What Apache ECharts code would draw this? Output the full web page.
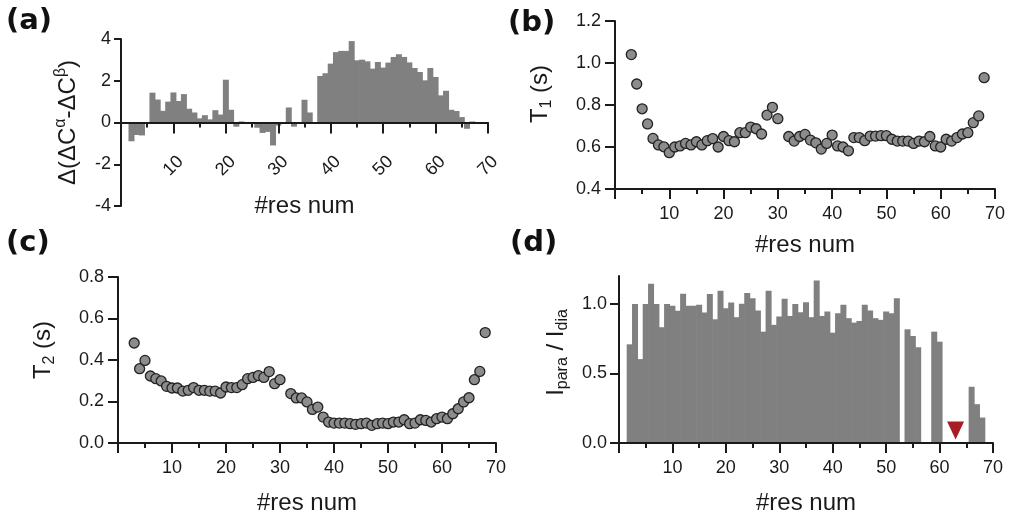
<!DOCTYPE html>
<html><head><meta charset="utf-8">
<script src="https://cdn.jsdelivr.net/npm/echarts@6/dist/echarts.min.js"></script>
<style>html,body{margin:0;padding:0;background:#fff}#c{width:1010px;height:516px}</style>
</head><body><div id="c"></div>
<script>
// ---------- data ----------
const resA = [2,3,4,5,6,7,8,9,10,11,12,13,14,15,16,17,18,19,20,21,22,23,24,25,26,27,28,29,30,31,32,33,34,35,36,37,38,39,40,41,42,43,44,45,46,47,48,49,50,51,52,53,54,55,56,57,58,59,60,61,62,63,64,65,66,67,68];
const valA = [-0.9,-0.6,-0.62,0,1.43,1.1,0.56,1.0,1.44,1.03,1.36,0.66,0.48,0.2,0.35,0.15,0.59,0.38,2.05,0.61,-0.2,0.05,0,0,-0.25,-0.5,-0.45,-1.1,-0.15,0,0.72,-0.2,0,1.09,0.48,0,2.23,2.36,2.82,3.37,3.43,3.43,3.9,2.98,3.01,2.93,2.58,2.9,2.63,2.87,3.14,3.27,3.14,2.88,2.61,2.42,2.02,2.61,2.18,1.3,1.52,0.61,0.55,0.26,-0.3,0.05,0];

const resBC = [3,4,5,6,7,8,9,10,11,12,13,14,15,16,17,18,19,20,21,22,23,24,25,26,27,28,29,30,32,33,34,35,36,37,38,39,40,41,42,43,44,45,46,47,48,49,50,51,52,53,54,55,56,57,58,59,60,61,62,63,64,65,66,67,68];
const valT1 = [1.04,0.9,0.782,0.71,0.641,0.61,0.601,0.573,0.6,0.605,0.617,0.61,0.625,0.61,0.63,0.64,0.6,0.65,0.63,0.625,0.668,0.668,0.695,0.687,0.662,0.752,0.789,0.735,0.65,0.628,0.65,0.66,0.633,0.62,0.59,0.617,0.657,0.605,0.6,0.582,0.645,0.645,0.63,0.652,0.652,0.654,0.654,0.637,0.628,0.628,0.628,0.617,0.628,0.625,0.65,0.605,0.6,0.637,0.628,0.645,0.662,0.668,0.716,0.748,0.93];
const valT2 = [0.482,0.358,0.398,0.323,0.31,0.299,0.273,0.265,0.265,0.25,0.254,0.267,0.254,0.254,0.25,0.25,0.241,0.27,0.267,0.267,0.281,0.31,0.316,0.325,0.316,0.344,0.286,0.305,0.238,0.217,0.217,0.198,0.162,0.173,0.125,0.101,0.096,0.096,0.096,0.093,0.09,0.093,0.096,0.085,0.093,0.096,0.093,0.101,0.101,0.112,0.093,0.096,0.112,0.109,0.101,0.117,0.125,0.117,0.141,0.165,0.198,0.218,0.305,0.345,0.532];

const resD = resA;
const valD = [0.709,0.998,0.603,0.998,1.144,0.998,0.832,0.998,0.986,0.95,1.072,0.986,0.986,0.993,0.938,1.07,0.889,1.094,0.969,1.01,0.904,1.0,1.077,1.041,0.952,0.8,1.094,0.849,0.909,1.036,0.913,0.998,0.94,1.012,0.904,1.168,0.913,0.945,0.793,0.933,0.993,0.897,0.865,0.877,0.993,0.952,0.897,0.885,0.945,0.933,1.041,null,0.817,0.769,0.688,null,null,0.8,0.728,null,null,null,null,null,0.404,0.279,0.183];
const markRes = [63];
const markVal = [0.09];

const xTicks = [10,20,30,40,50,60,70];

// ---------- styles ----------
const FONT = 'Liberation Sans, Arial, sans-serif';
const INK = '#1a1a1a';
const pair = (xs, ys) => xs.map((x, i) => [x, ys[i]]);

function xAxis(gi, opt) {
  return Object.assign({
    type: 'value', gridIndex: gi, min: 0, max: 70, interval: 10,
    name: '#res num', nameLocation: 'middle', nameGap: 45, nameMoveOverlap: false,
    nameTextStyle: {fontSize: 24, color: INK, fontFamily: FONT},
    axisLine: {show: true, lineStyle: {color: INK, width: 2}},
    axisTick: {show: true, length: 10, lineStyle: {color: INK, width: 2}},
    minorTick: {show: true, splitNumber: 2, length: 5, lineStyle: {color: INK, width: 2}},
    splitLine: {show: false}, minorSplitLine: {show: false},
    axisLabel: {fontSize: 18, color: INK, fontFamily: FONT, margin: 16, showMinLabel: false,
      formatter: v => xTicks.includes(v) ? String(v) : ''},
    z: 5
  }, opt);
}
const richName = {
  n: {fontSize: 24, lineHeight: 30, color: INK, fontFamily: FONT},
  sub: {fontSize: 16, lineHeight: 16, color: INK, fontFamily: FONT, verticalAlign: 'bottom'},
  sup: {fontSize: 16, lineHeight: 16, color: INK, fontFamily: FONT, verticalAlign: 'top'}
};
function yAxis(gi, opt, pad) {
  return Object.assign({
    type: 'value', gridIndex: gi, nameLocation: 'middle', nameRotate: 90, nameMoveOverlap: false,
    nameTextStyle: {fontSize: 24, color: INK, fontFamily: FONT, rich: richName, padding: pad || 0},
    axisLine: {show: true, lineStyle: {color: INK, width: 2}},
    axisTick: {show: true, length: 10, lineStyle: {color: INK, width: 2}},
    splitLine: {show: false},
    axisLabel: {fontSize: 18, color: INK, fontFamily: FONT, margin: 14},
    z: 5
  }, opt);
}

const dotStyle = {color: '#8c8c8c', borderColor: '#222', borderWidth: 1.3, opacity: 1};
const barColor = '#808080';
const LETTER = {fontSize: 29, fontWeight: 'bold', fontFamily: 'DejaVu Sans, sans-serif', fill: '#111'};

const chart = echarts.init(document.getElementById('c'), null, {renderer: 'canvas'});
chart.setOption({
  animation: false,
  backgroundColor: '#fff',
  grid: [
    {left: 121, top: 39, width: 367, height: 167, outerBoundsMode: 'none'},
    {left: 615, top: 21, width: 380, height: 168, outerBoundsMode: 'none'},
    {left: 118, top: 277, width: 378, height: 166, outerBoundsMode: 'none'},
    {left: 619, top: 276, width: 374, height: 167, outerBoundsMode: 'none'}
  ],
  xAxis: [
    xAxis(0, {nameGap: -12, axisTick: {show: true, length: 11, lineStyle: {color: INK, width: 2}},
      axisLabel: {fontSize: 18, color: INK, fontFamily: FONT, rotate: 45, margin: -40, align: 'center', verticalAlign: 'middle', showMinLabel: false,
        formatter: v => xTicks.includes(v) ? String(v) : ''}}),
    xAxis(1, {nameGap: 44}),
    xAxis(2, {nameGap: 48}),
    xAxis(3, {nameGap: 48})
  ],
  yAxis: [
    yAxis(0, {min: -4, max: 4, interval: 2, name: '{n|Δ(ΔC}{sup|α}{n|-ΔC}{sup|β}{n|)}', nameGap: 38,
      axisTick: {show: true, length: 7, lineStyle: {color: INK, width: 2}},
      axisLabel: {fontSize: 18, color: INK, fontFamily: FONT, margin: 10}}),
    yAxis(1, {min: 0.4, max: 1.2, interval: 0.2, name: '{n|T}{sub|1}{n| (s)}', nameGap: 60,
      axisLabel: {fontSize: 18, color: INK, fontFamily: FONT, margin: 14, formatter: v => v.toFixed(1)}}, [0, 0, 0, 22]),
    yAxis(2, {min: 0, max: 0.8, interval: 0.2, name: '{n|T}{sub|2}{n| (s)}', nameGap: 60,
      axisLabel: {fontSize: 18, color: INK, fontFamily: FONT, margin: 14, formatter: v => v.toFixed(1)}}, [0, 0, 0, 20]),
    yAxis(3, {min: 0, max: 1.2, interval: 0.5, name: '{n|I}{sub|para}{n| / I}{sub|dia}', nameGap: 48,
      axisTick: {show: true, length: 9, customValues: [0, 0.5, 1.0], lineStyle: {color: INK, width: 2}},
      axisLabel: {fontSize: 18, color: INK, fontFamily: FONT, margin: 12, customValues: [0, 0.5, 1.0], formatter: v => v.toFixed(1)}}, [0, 0, 0, 14])
  ],
  series: [
    {type: 'bar', xAxisIndex: 0, yAxisIndex: 0, data: pair(resA, valA), barWidth: 6, itemStyle: {color: barColor}, silent: true},
    {type: 'scatter', xAxisIndex: 1, yAxisIndex: 1, data: pair(resBC, valT1), symbolSize: 10, itemStyle: dotStyle, z: 3},
    {type: 'scatter', xAxisIndex: 2, yAxisIndex: 2, data: pair(resBC, valT2), symbolSize: 10, itemStyle: dotStyle, z: 3},
    {type: 'bar', xAxisIndex: 3, yAxisIndex: 3, data: pair(resD, valD), barWidth: 6, itemStyle: {color: barColor}, silent: true},
    {type: 'scatter', xAxisIndex: 3, yAxisIndex: 3, data: pair(markRes, markVal), symbol: 'triangle', symbolRotate: 180, symbolSize: [17, 18], itemStyle: {color: '#a81c22', opacity: 1}, z: 4}
  ],
  graphic: [
    {type: 'text', left: 6, top: 7, style: Object.assign({text: '(a)'}, LETTER)},
    {type: 'text', left: 508, top: 9, style: Object.assign({text: '(b)'}, LETTER)},
    {type: 'text', left: 6, top: 229, style: Object.assign({text: '(c)'}, LETTER)},
    {type: 'text', left: 510, top: 229, style: Object.assign({text: '(d)'}, LETTER)}
  ]
});
</script>
</body></html>
